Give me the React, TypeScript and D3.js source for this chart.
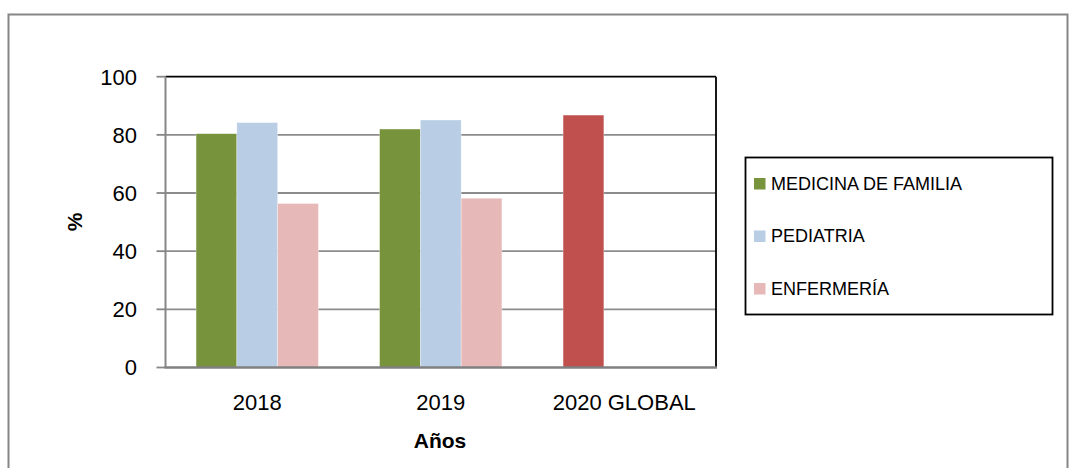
import React from "react";
import * as d3 from "d3";

const categories = ["2018", "2019", "2020 GLOBAL"];
const seriesNames = ["MEDICINA DE FAMILIA", "PEDIATRIA", "ENFERMERÍA"];
const medicina = [80.4, 82.0, 86.8];
const pediatria = [84.2, 85.1, null];
const enfermeria = [56.4, 58.2, null];
const yTicks = [0, 20, 40, 60, 80, 100];
const seriesColors = ["#77933C", "#B9CDE5", "#E6B9B8"];
const highlightColor = "#C0504D"; // colour override for the 2020 GLOBAL point

export default function App() {
  const W = 1076, H = 468;
  const left = 165.5, right = 716, top = 76.7, bottom = 367.5;
  const seriesValues = [medicina, pediatria, enfermeria];

  const x = d3.scaleBand<string>().domain(categories).range([left, right]).paddingInner(0).paddingOuter(0);
  const inner = d3.scaleBand<number>().domain([0, 1, 2]).range([0, x.bandwidth()]).paddingOuter(0.75 / 1).paddingInner(0);
  // Excel gap width 150%: group = 3w + 1.5w
  const bw = x.bandwidth() / 4.5;
  const y = d3.scaleLinear().domain([0, 100]).range([bottom, top]);

  const font = "'Liberation Sans', Arial, sans-serif";

  return (
    <svg width={W} height={H} style={{ position: "absolute", left: 0, top: 0, background: "#fff" }}>
      <rect x={8.5} y={14.5} width={1059} height={480} fill="#fff" stroke="#868686" strokeWidth={2} />
      {/* gridlines */}
      {yTicks.filter(t => t > 0 && t < 100).map(t => (
        <line key={t} x1={left} x2={right} y1={y(t)} y2={y(t)} stroke="#8C8C8C" strokeWidth={1.8} />
      ))}
      {/* bars */}
      {seriesValues.map((vals, si) =>
        vals.map((v, ci) => {
          if (v == null) return null;
          const bx = (x(categories[ci]) as number) + 0.75 * bw + si * bw;
          const color = ci === 2 && si === 0 ? highlightColor : seriesColors[si];
          return <rect key={`${si}-${ci}`} x={bx} y={y(v)} width={bw} height={bottom - y(v)} fill={color} stroke="#ffffff" strokeOpacity={0.5} strokeWidth={0.6} />;
        })
      )}
      {/* plot border: top and right black */}
      <line x1={left} x2={right} y1={top} y2={top} stroke="#000" strokeWidth={1.8} />
      <line x1={right} x2={right} y1={top} y2={bottom} stroke="#000" strokeWidth={1.8} />
      {/* axes */}
      <line x1={left} x2={left} y1={top} y2={bottom} stroke="#868686" strokeWidth={2} />
      <line x1={left - 1} x2={right + 1} y1={bottom} y2={bottom} stroke="#808080" strokeWidth={2.5} />
      {yTicks.map(t => (
        <g key={t}>
          <line x1={left - 9} x2={left} y1={y(t)} y2={y(t)} stroke="#868686" strokeWidth={1.8} />
          <text x={137} y={y(t)} dy="0.36em" textAnchor="end" fontFamily={font} fontSize={22} fill="#000">{t}</text>
        </g>
      ))}
      {categories.map(c => (
        <text key={c} x={(x(c) as number) + x.bandwidth() / 2} y={410} textAnchor="middle" fontFamily={font} fontSize={22} fill="#000">{c}</text>
      ))}
      <text x={440} y={448} textAnchor="middle" fontFamily={font} fontSize={21} fontWeight="bold" fill="#000">Años</text>
      <text transform={`translate(82,222) rotate(-90)`} textAnchor="middle" fontFamily={font} fontSize={21} fontWeight="bold" fill="#000">%</text>
      {/* legend */}
      <rect x={745.5} y={157.5} width={307} height={157} fill="#fff" stroke="#000" strokeWidth={1.8} />
      {seriesNames.map((n, i) => {
        const cy = 183.5 + i * 52.5;
        return (
          <g key={n}>
            <rect x={754} y={cy - 5.5} width={11.5} height={11.5} fill={seriesColors[i]} />
            <text x={771} y={cy} dy="0.36em" fontFamily={font} fontSize={18} fill="#000">{n}</text>
          </g>
        );
      })}
    </svg>
  );
}
